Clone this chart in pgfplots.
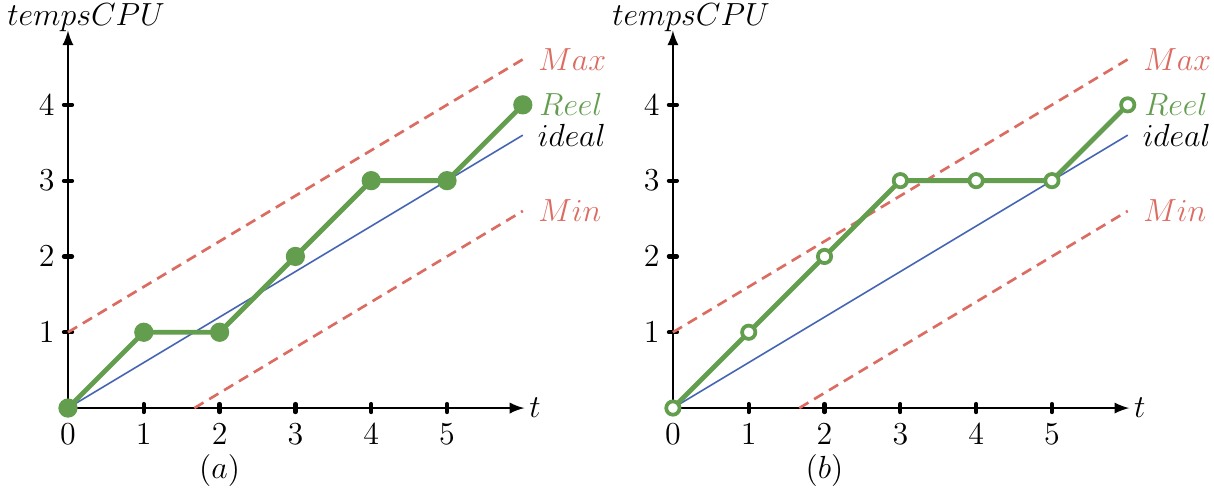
\documentclass[border=0pt]{standalone}
\usepackage{pgfplots}
\pgfplotsset{compat=1.18}
\definecolor{reelg}{RGB}{98,158,78}
\definecolor{maxr}{RGB}{220,108,98}
\definecolor{idealb}{RGB}{70,100,180}
\newcommand{\fs}{\fontsize{12.6}{15}\selectfont}
\pgfplotsset{
  cpu/.style={
    x=1cm, y=1cm,
    xmin=0, xmax=6.02, ymin=0, ymax=4.98,
    axis lines=middle,
    axis line style={line width=0.9pt, -latex},
    xtick={0,1,2,3,4,5}, ytick={1,2,3,4},
    hide obscured x ticks=false,
    major tick length=3pt,
    tick style={black, line width=1.6pt, line cap=round},
    tick label style={font=\fs},
    xticklabel style={yshift=-1pt},
    clip=false,
    anchor=origin,
  },
  dsh/.style={maxr, line width=1pt, dash pattern=on 4pt off 2.5pt},
}
\begin{document}
\begin{tikzpicture}
\useasboundingbox (-0.897cm,-1.174cm) rectangle (15.118cm,5.383cm);
\begin{axis}[cpu, at={(0cm,0cm)}]
\addplot[dsh] coordinates {(0,1) (6,4.6)} node[pos=1, right, font=\fs, xshift=2pt] {$Max$};
\addplot[dsh] coordinates {(1.667,0) (6,2.6)} node[pos=1, right, font=\fs, xshift=2pt] {$Min$};
\addplot[idealb, line width=0.6pt] coordinates {(0,0) (6,3.6)} node[pos=1, right, font=\fs, black, xshift=2pt] {$ideal$};
\addplot[reelg, line width=1.8pt, mark=*, mark size=2.7pt, mark options={fill=reelg, draw=reelg}] coordinates {(0,0) (1,1) (2,1) (3,2) (4,3) (5,3) (6,4)} node[pos=1, right, font=\fs, xshift=2pt] {$Reel$};
\node[font=\fs] at (axis cs:6.16,0) {$t$};
\node[font=\fs, anchor=base] at (axis cs:0.24,5.05) {$tempsCPU$};
\node[font=\fs] at (axis cs:2,-0.83) {$(a)$};
\end{axis}
\begin{axis}[cpu, at={(7.98cm,0cm)}]
\addplot[dsh] coordinates {(0,1) (6,4.6)} node[pos=1, right, font=\fs, xshift=2pt] {$Max$};
\addplot[dsh] coordinates {(1.667,0) (6,2.6)} node[pos=1, right, font=\fs, xshift=2pt] {$Min$};
\addplot[idealb, line width=0.6pt] coordinates {(0,0) (6,3.6)} node[pos=1, right, font=\fs, black, xshift=2pt] {$ideal$};
\addplot[reelg, line width=1.8pt, mark=*, mark size=2.5pt, mark options={fill=white, draw=reelg, line width=1.4pt}] coordinates {(0,0) (1,1) (2,2) (3,3) (4,3) (5,3) (6,4)} node[pos=1, right, font=\fs, xshift=2pt] {$Reel$};
\node[font=\fs] at (axis cs:6.16,0) {$t$};
\node[font=\fs, anchor=base] at (axis cs:0.24,5.05) {$tempsCPU$};
\node[font=\fs] at (axis cs:2,-0.83) {$(b)$};
\end{axis}
\end{tikzpicture}
\end{document}
